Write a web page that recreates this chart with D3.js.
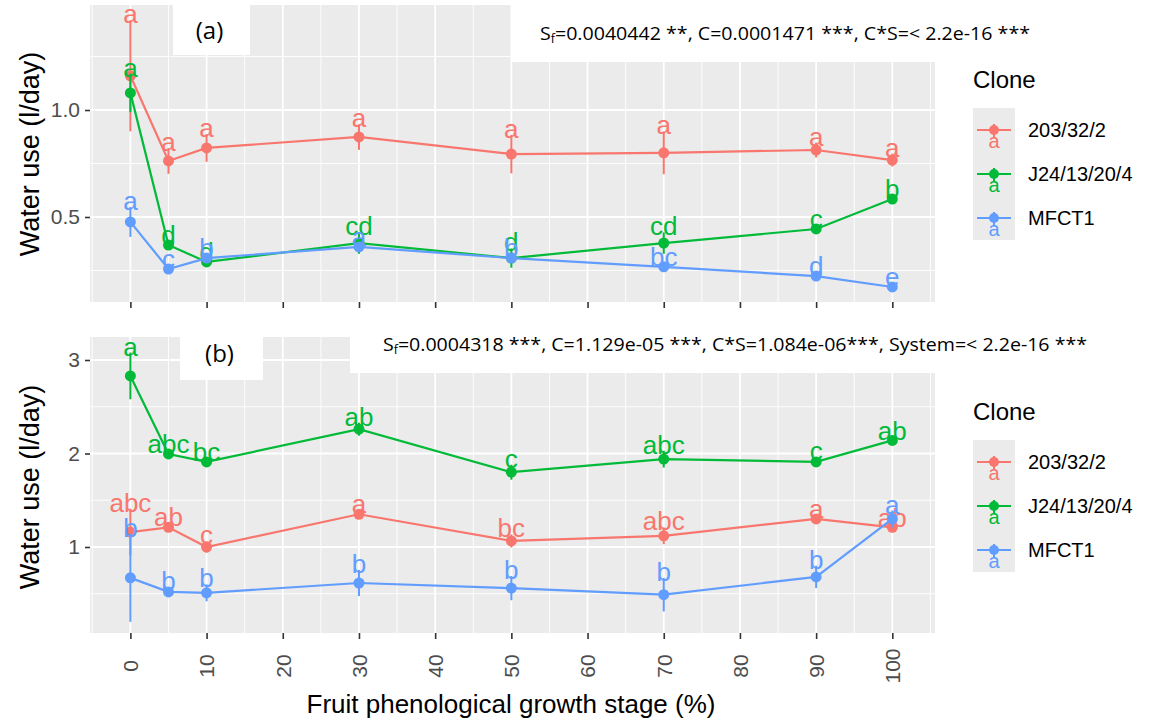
<!DOCTYPE html>
<html>
<head>
<meta charset="utf-8">
<script src="https://cdn.jsdelivr.net/npm/d3@7"></script>
<style>
  body { margin: 0; background: #fff; }
  svg { display: block; }
  text { font-family: "Liberation Sans", Arial, sans-serif; }
</style>
</head>
<body>
<div id="chart"></div>
<script>
// fruit phenological growth stage (%)
const stages = [0, 5, 10, 30, 50, 70, 90, 100];
const clones = ["203/32/2", "J24/13/20/4", "MFCT1"];
const cloneColors = ["#F8766D", "#00BA38", "#619CFF"];
const xTicks = [0, 10, 20, 30, 40, 50, 60, 70, 80, 90, 100];

// panel (a)
const meanA_203 = [1.16, 0.762, 0.823, 0.874, 0.794, 0.80, 0.813, 0.766];
const errA_203  = [0.26, 0.06, 0.065, 0.06, 0.09, 0.10, 0.035, 0.03];
const letA_203  = ["a", "a", "a", "a", "a", "a", "a", "a"];
const meanA_J24 = [1.08, 0.369, 0.29, 0.378, 0.308, 0.378, 0.444, 0.584];
const errA_J24  = [0.09, 0.02, 0.02, 0.05, 0.045, 0.05, 0.02, 0.02];
const letA_J24  = ["a", "d", "d", "cd", "d", "cd", "c", "b"];
const meanA_MF  = [0.477, 0.257, 0.308, 0.36, 0.308, 0.267, 0.224, 0.173];
const errA_MF   = [0.07, 0.02, 0.02, 0.02, 0.02, 0.02, 0.02, 0.02];
const letA_MF   = ["a", "c", "b", "a", "b", "bc", "d", "e"];
const yTicksA = [0.5, 1.0];
const yMinorA = [0.25, 0.75, 1.25];

// panel (b)
const meanB_203 = [1.16, 1.21, 1.0, 1.35, 1.065, 1.12, 1.30, 1.21];
const errB_203  = [0.25, 0.05, 0.06, 0.05, 0.07, 0.09, 0.04, 0.04];
const letB_203  = ["abc", "ab", "c", "a", "bc", "abc", "a", "ab"];
const meanB_J24 = [2.83, 1.995, 1.91, 2.26, 1.80, 1.94, 1.91, 2.14];
const errB_J24  = [0.25, 0.04, 0.04, 0.07, 0.08, 0.09, 0.05, 0.04];
const letB_J24  = ["a", "abc", "bc", "ab", "c", "abc", "c", "ab"];
const meanB_MF  = [0.67, 0.52, 0.51, 0.615, 0.56, 0.49, 0.68, 1.30];
const errB_MF   = [0.47, 0.05, 0.09, 0.14, 0.13, 0.18, 0.12, 0.09];
const letB_MF   = ["b", "b", "b", "b", "b", "b", "b", "a"];
const yTicksB = [1, 2, 3];
const yMinorB = [0.5, 1.5, 2.5];

const W = 1159, H = 721;
const svg = d3.select("#chart").append("svg").attr("width", W).attr("height", H);

const x = d3.scaleLinear().domain([-5.3, 105.6]).range([90, 935]);

const panels = [
  {
    top: 5, bottom: 302, domain: [0.1028, 1.4907],
    series: [[meanA_203, errA_203, letA_203], [meanA_J24, errA_J24, letA_J24], [meanA_MF, errA_MF, letA_MF]],
    ticks: yTicksA, minor: yMinorA, fmt: d3.format(".1f"), xLabels: false,
    tag: "(a)", tagBox: [173, 5, 77, 50],
    note: "=0.0040442 **, C=0.0001471 ***, C*S=< 2.2e-16 ***", noteBox: [512, 5, 540, 57], noteX: 540, noteLen: 490,
    legendTop: 58, titleY: 154
  },
  {
    top: 337, bottom: 633, domain: [0.0802, 3.246],
    series: [[meanB_203, errB_203, letB_203], [meanB_J24, errB_J24, letB_J24], [meanB_MF, errB_MF, letB_MF]],
    ticks: yTicksB, minor: yMinorB, fmt: d3.format("d"), xLabels: true,
    tag: "(b)", tagBox: [180, 325, 83, 55],
    note: "=0.0004318 ***, C=1.129e-05 ***, C*S=1.084e-06***, System=< 2.2e-16 ***", noteBox: [350, 316, 752, 57], noteX: 383, noteLen: 704,
    legendTop: 390, titleY: 487
  }
];

panels.forEach(p => {
  const y = d3.scaleLinear().domain(p.domain).range([p.bottom, p.top]);
  const g = svg.append("g");

  g.append("rect").attr("x", x.range()[0]).attr("y", p.top)
    .attr("width", x.range()[1] - x.range()[0]).attr("height", p.bottom - p.top)
    .attr("fill", "#EBEBEB");

  // grid
  const xMinor = d3.range(-5, 106, 10);
  g.selectAll(".gxm").data(xMinor).join("line")
    .attr("x1", d => x(d)).attr("x2", d => x(d)).attr("y1", p.top).attr("y2", p.bottom)
    .attr("stroke", "#fff").attr("stroke-width", 0.9);
  g.selectAll(".gym").data(p.minor).join("line")
    .attr("x1", x.range()[0]).attr("x2", x.range()[1]).attr("y1", d => y(d)).attr("y2", d => y(d))
    .attr("stroke", "#fff").attr("stroke-width", 0.9);
  g.selectAll(".gx").data(xTicks).join("line")
    .attr("x1", d => x(d)).attr("x2", d => x(d)).attr("y1", p.top).attr("y2", p.bottom)
    .attr("stroke", "#fff").attr("stroke-width", 1.8);
  g.selectAll(".gy").data(p.ticks).join("line")
    .attr("x1", x.range()[0]).attr("x2", x.range()[1]).attr("y1", d => y(d)).attr("y2", d => y(d))
    .attr("stroke", "#fff").attr("stroke-width", 1.8);

  // axes
  const ya = g.append("g").attr("transform", `translate(${x.range()[0]},0)`)
    .call(d3.axisLeft(y).tickValues(p.ticks).tickFormat(p.fmt).tickSize(5).tickSizeOuter(0).tickPadding(5));
  ya.select(".domain").remove();
  ya.selectAll("line").attr("stroke", "#333").attr("stroke-width", 1.6);
  ya.selectAll("text").attr("fill", "#4D4D4D").attr("font-size", 21);

  const xa = g.append("g").attr("transform", `translate(0,${p.bottom})`)
    .call(d3.axisBottom(x).tickValues(xTicks).tickSize(6).tickSizeOuter(0));
  xa.select(".domain").remove();
  xa.selectAll("line").attr("stroke", "#333").attr("stroke-width", 1.6);
  if (p.xLabels) {
    xa.selectAll("text").attr("fill", "#4D4D4D").attr("font-size", 21)
      .attr("y", 0).attr("dy", "0.35em")
      .attr("transform", "translate(0,33) rotate(-90)")
      .attr("text-anchor", "middle");
  } else {
    xa.selectAll("text").remove();
  }

  // series
  const line = d3.line().x((d, i) => x(stages[i])).y(d => y(d));
  p.series.forEach((s, k) => {
    const [mean, err, lets] = s;
    const col = cloneColors[k];
    const sg = g.append("g");
    sg.append("path").attr("d", line(mean)).attr("fill", "none")
      .attr("stroke", col).attr("stroke-width", 2.2);
    sg.selectAll(".eb").data(mean).join("line")
      .attr("x1", (d, i) => x(stages[i])).attr("x2", (d, i) => x(stages[i]))
      .attr("y1", (d, i) => y(d + err[i])).attr("y2", (d, i) => y(d - err[i]))
      .attr("stroke", col).attr("stroke-width", 2);
    sg.selectAll("circle").data(mean).join("circle")
      .attr("cx", (d, i) => x(stages[i])).attr("cy", d => y(d)).attr("r", 5.5)
      .attr("fill", col);
    sg.selectAll("text").data(mean).join("text")
      .attr("x", (d, i) => x(stages[i])).attr("y", (d, i) => y(d + err[i]) + 3)
      .attr("text-anchor", "middle").attr("font-size", 26).attr("fill", col)
      .text((d, i) => lets[i]);
  });

  // annotation boxes
  const tb = p.tagBox;
  g.append("rect").attr("x", tb[0]).attr("y", tb[1]).attr("width", tb[2]).attr("height", tb[3]).attr("fill", "#fff");
  g.append("text").attr("x", tb[0] + tb[2] / 2 - 2).attr("y", tb[1] + tb[3] / 2 + 1)
    .attr("dy", "0.35em").attr("text-anchor", "middle")
    .style("font-family", "'Open Sans', sans-serif").attr("font-size", 24).attr("fill", "#000")
    .text(p.tag);

  const nb = p.noteBox;
  g.append("rect").attr("x", nb[0]).attr("y", nb[1]).attr("width", nb[2]).attr("height", nb[3]).attr("fill", "#fff");
  const nt = g.append("text").attr("x", p.noteX).attr("y", nb[1] + nb[3] / 2 + 6)
    .attr("textLength", p.noteLen).attr("lengthAdjust", "spacingAndGlyphs")
    .style("font-family", "'Open Sans', sans-serif").attr("font-size", 19).attr("fill", "#000");
  nt.append("tspan").text("S");
  nt.append("tspan").attr("font-size", 12).attr("dy", 3).text("f");
  nt.append("tspan").attr("dy", -3).text(p.note);

  // legend
  const lg = svg.append("g").attr("transform", `translate(973,${p.legendTop})`);
  lg.append("text").attr("x", 0).attr("y", 30).attr("font-size", 24).attr("fill", "#000").text("Clone");
  lg.append("rect").attr("x", 0).attr("y", 50).attr("width", 42).attr("height", 132).attr("fill", "#EBEBEB");
  clones.forEach((c, k) => {
    const cy = 50 + 22 + k * 44;
    const col = cloneColors[k];
    lg.append("line").attr("x1", 4).attr("x2", 38).attr("y1", cy).attr("y2", cy)
      .attr("stroke", col).attr("stroke-width", 2.2);
    lg.append("line").attr("x1", 21).attr("x2", 21).attr("y1", cy - 6).attr("y2", cy + 8)
      .attr("stroke", col).attr("stroke-width", 2);
    lg.append("circle").attr("cx", 21).attr("cy", cy).attr("r", 5).attr("fill", col);
    lg.append("text").attr("x", 21).attr("y", cy + 18).attr("text-anchor", "middle")
      .attr("font-size", 20).attr("fill", col).text("a");
    lg.append("text").attr("x", 55).attr("y", cy).attr("dy", "0.35em")
      .attr("font-size", 20).attr("fill", "#000").text(c);
  });

  // y title
  svg.append("text")
    .attr("transform", `translate(30,${p.titleY}) rotate(-90)`)
    .attr("text-anchor", "middle").attr("dy", "0.35em")
    .attr("font-size", 27).attr("fill", "#000")
    .text("Water use (l/day)");
});

svg.append("text").attr("x", 511).attr("y", 713).attr("text-anchor", "middle")
  .attr("font-size", 26).attr("fill", "#000")
  .text("Fruit phenological growth stage (%)");
</script>
</body>
</html>
